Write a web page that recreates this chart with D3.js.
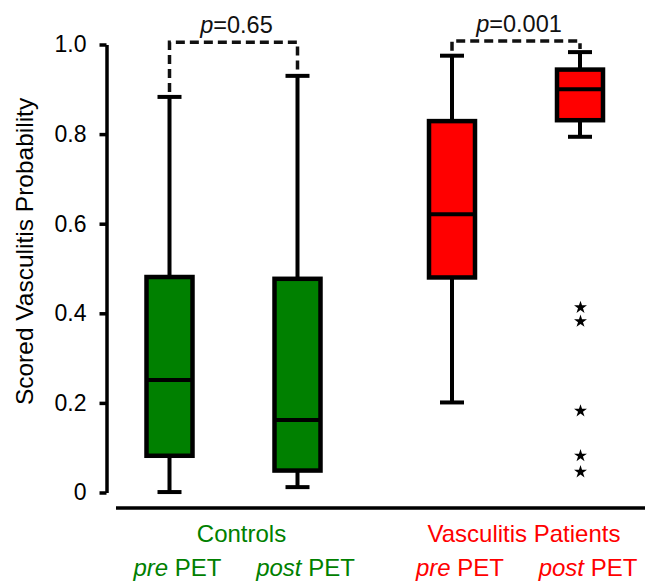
<!DOCTYPE html>
<html>
<head>
<meta charset="utf-8">
<script src="https://cdn.jsdelivr.net/npm/d3@7"></script>
<style>
  body { margin: 0; background: #fff; }
  svg { font-family: "Liberation Sans", Arial, Helvetica, sans-serif; }
</style>
</head>
<body>
<div class="chart"></div>
<script>
// data
var groups = ["Controls", "Vasculitis Patients"];
var phases = ["pre", "post"];
var groupColors = ["#008000", "#ff0000"];

var whiskerLow  = [[0.001, 0.012], [0.201, 0.794]];
var quartile1   = [[0.082, 0.049], [0.480, 0.831]];
var medians     = [[0.251, 0.162], [0.621, 0.900]];
var quartile3   = [[0.481, 0.477], [0.829, 0.944]];
var whiskerHigh = [[0.883, 0.930], [0.975, 0.983]];

// outliers only in Vasculitis post PET
var outliers = [0.413, 0.382, 0.182, 0.082, 0.046];

var pValues = ["0.65", "0.001"];
var bracketLevel = [1.005, 1.008];
var yTicks = [0, 0.2, 0.4, 0.6, 0.8, 1.0];

var svgWidth = 650, svgHeight = 581;

var svg = d3.select(".chart")
  .append("svg")
  .attr("width", svgWidth)
  .attr("height", svgHeight);

// scales
var yScale = d3.scaleLinear()
  .domain([0, 1])
  .range([492.5, 44.5]);

var groupScale = d3.scalePoint()
  .domain(groups)
  .range([233.5, 516]);

var phaseScale = d3.scalePoint()
  .domain(phases)
  .range([-64, 64]);

function cx(g, p) { return groupScale(groups[g]) + phaseScale(phases[p]); }

// y axis
var leftAxis = d3.axisLeft(yScale)
  .tickValues(yTicks)
  .tickSize(7)
  .tickSizeOuter(0)
  .tickPadding(13)
  .tickFormat(d => d === 0 ? "0" : d3.format(".1f")(d));

var yAxisG = svg.append("g")
  .attr("transform", "translate(106.5,0)")
  .call(leftAxis);
yAxisG.select(".domain").attr("stroke-width", 3.5);
yAxisG.selectAll(".tick line").attr("stroke-width", 3.5);
yAxisG.selectAll(".tick text")
  .attr("font-size", 23)
  .attr("font-family", "Liberation Sans, Arial, sans-serif")
  .attr("fill", "#000");

// baseline under the boxes
svg.append("line")
  .attr("x1", 116).attr("x2", 645)
  .attr("y1", 508).attr("y2", 508)
  .attr("stroke", "#000")
  .attr("stroke-width", 3.5);

// y label
svg.append("text")
  .attr("transform", "translate(33," + yScale(0.538) + ") rotate(-90)")
  .attr("text-anchor", "middle")
  .attr("font-size", 24.5)
  .text("Scored Vasculitis Probability");

// boxes
var boxW = 46, capW = 24;
groups.forEach(function(gName, g) {
  phases.forEach(function(pName, p) {
    var x = cx(g, p);
    var box = svg.append("g");
    // whisker
    box.append("line")
      .attr("x1", x).attr("x2", x)
      .attr("y1", yScale(whiskerLow[g][p]))
      .attr("y2", yScale(whiskerHigh[g][p]))
      .attr("stroke", "#000").attr("stroke-width", 4);
    [whiskerLow[g][p], whiskerHigh[g][p]].forEach(function(v) {
      box.append("line")
        .attr("x1", x - capW / 2).attr("x2", x + capW / 2)
        .attr("y1", yScale(v)).attr("y2", yScale(v))
        .attr("stroke", "#000").attr("stroke-width", 4);
    });
    box.append("rect")
      .attr("x", x - boxW / 2)
      .attr("width", boxW)
      .attr("y", yScale(quartile3[g][p]))
      .attr("height", yScale(quartile1[g][p]) - yScale(quartile3[g][p]))
      .attr("fill", groupColors[g])
      .attr("stroke", "#000")
      .attr("stroke-width", 4.5);
    box.append("line")
      .attr("x1", x - boxW / 2).attr("x2", x + boxW / 2)
      .attr("y1", yScale(medians[g][p])).attr("y2", yScale(medians[g][p]))
      .attr("stroke", "#000").attr("stroke-width", 4);
  });
});

// outlier stars
svg.selectAll(".outlier")
  .data(outliers)
  .enter()
  .append("path")
  .attr("class", "outlier")
  .attr("d", d3.symbol(d3.symbolStar).size(52))
  .attr("transform", d => "translate(" + (cx(1, 1) + 0.5) + "," + yScale(d) + ")")
  .attr("fill", "#000");

// significance brackets
groups.forEach(function(gName, g) {
  var x0 = cx(g, 0), x1 = cx(g, 1);
  var yb = yScale(bracketLevel[g]);
  var y0 = Math.max(yScale(whiskerHigh[g][0]) - 5, yb + 8);
  var y1 = Math.max(yScale(whiskerHigh[g][1]) - 5, yb + 8);
  svg.append("path")
    .attr("d", "M" + x0 + "," + y0 + "V" + yb + "H" + x1 + "V" + y1)
    .attr("fill", "none")
    .attr("stroke", "#111")
    .attr("stroke-width", 3.5)
    .attr("stroke-dasharray", "9,5");
  var t = svg.append("text")
    .attr("x", groupScale(gName) + 3)
    .attr("y", yb - 9)
    .attr("text-anchor", "middle")
    .attr("font-size", 23.5)
    .attr("fill", "#111");
  t.append("tspan").attr("font-style", "italic").text("p");
  t.append("tspan").text("=" + pValues[g]);
});

// category labels
groups.forEach(function(gName, g) {
  svg.append("text")
    .attr("x", groupScale(gName) + 8)
    .attr("y", 542)
    .attr("text-anchor", "middle")
    .attr("font-size", 24)
    .attr("fill", groupColors[g])
    .text(gName);
  phases.forEach(function(pName, p) {
    var t = svg.append("text")
      .attr("x", cx(g, p) + 8)
      .attr("y", 576)
      .attr("text-anchor", "middle")
      .attr("font-size", 24)
      .attr("fill", groupColors[g]);
    t.append("tspan").attr("font-style", "italic").text(pName);
    t.append("tspan").text(" PET");
  });
});
</script>
</body>
</html>
